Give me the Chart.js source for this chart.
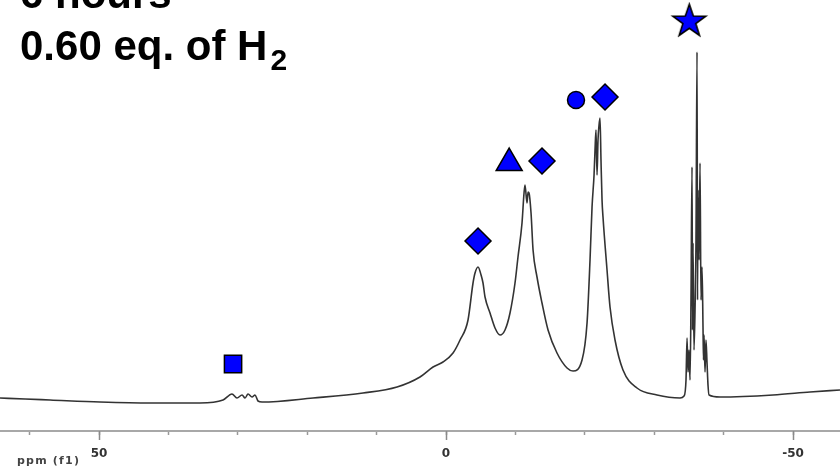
<!DOCTYPE html>
<html>
<head>
<meta charset="utf-8">
<script src="https://cdn.jsdelivr.net/npm/chart.js@4/dist/chart.umd.min.js"></script>
<style>
  html, body { margin: 0; padding: 0; background: #ffffff; overflow: hidden; }
  #wrap { width: 840px; height: 470px; position: relative; }
  canvas { display: block; }
</style>
</head>
<body>
<div id="wrap"><canvas id="c" width="840" height="470"></canvas></div>
<script>
// Spectrum trace: chemical shift (ppm) and intensity (arb. units)
const ppm = [
  64.27, 60.66, 57.06, 49.86, 42.65, 35.45, 32.13, 30.84, 30.12, 29.39, 28.96, 28.53, 27.95, 27.52, 27.09, 26.51,
  19.16, 11.96, 7.06, 3.75, 1.87, 0.43, -1.01, -2.02, -3.17, -3.89, -4.18, -4.61, -5.05, -5.33, -5.62, -6.34,
  -7.06, -7.78, -8.50, -9.22, -9.94, -10.37, -10.95, -11.24, -11.38, -11.67, -11.82, -11.96, -12.25, -12.54, -13.11, -13.83,
  -14.70, -15.99, -17.44, -18.30, -19.60, -20.32, -20.75, -21.04, -21.33, -21.47, -21.61, -21.76, -21.90, -22.05, -22.19, -22.33,
  -22.48, -22.62, -23.20, -23.63, -24.35, -25.50, -27.52, -30.40, -33.72, -34.29, -34.58, -34.73, -34.87, -35.01, -35.16, -35.30,
  -35.45, -35.52, -35.59, -35.73, -35.88, -36.02, -36.17, -36.24, -36.31, -36.46, -36.60, -36.74, -36.89, -37.03, -37.10, -37.18,
  -37.32, -37.46, -37.61, -37.75, -37.90, -39.48, -47.12, -52.45, -56.77
];
const intensity = [
  33, 32, 31, 29, 28, 28, 31, 37, 33, 36, 33, 37, 34, 36, 30, 29,
  33, 38, 44, 54, 64, 69, 78, 91, 111, 148, 158, 164, 156, 148, 134, 118,
  103, 96, 101, 118, 148, 174, 208, 238, 246, 228, 239, 238, 218, 181, 154, 128,
  101, 78, 63, 60, 71, 108, 171, 224, 256, 281, 301, 256, 291, 306, 313, 271,
  231, 214, 161, 124, 91, 61, 43, 36, 33, 35, 51, 93, 59, 81, 51, 131,
  264, 101, 188, 81, 121, 191, 379, 131, 241, 171, 268, 131, 164, 104, 71, 96,
  59, 91, 68, 46, 36, 34, 36, 39, 41
];

// Peak assignment markers
const markerPpm       = [-35.05, -18.73, -22.91, -9.10, -13.83, -4.61, 30.69];
const markerIntensity = [409.5, 331, 334, 268, 270, 190, 67];
const markerShape     = ['star', 'circle', 'rectRot', 'triangle', 'rectRot', 'rectRot', 'rect'];
const markerRadius    = [17, 8.5, 13, 15, 13, 13, 12.2];

// Axis ticks
const majorTicks = [50, 0, -50];
const xMin = -56.77, xMax = 64.27;

// Title lines
const titleLine1 = '6 hours';
const titleLine2 = '0.60 eq. of H';
const titleSub = '2';
const axisName = 'ppm (f1)';

function makeStar(R, r) {
  const size = Math.ceil(2 * R + 4);
  const c = document.createElement('canvas');
  c.width = size; c.height = size;
  const g = c.getContext('2d');
  const cx = size / 2, cy = size / 2;
  g.beginPath();
  for (let i = 0; i < 10; i++) {
    const rad = (i % 2 === 0) ? R : r;
    const a = -Math.PI / 2 + i * Math.PI / 5;
    const px = cx + rad * Math.cos(a), py = cy + rad * Math.sin(a);
    if (i === 0) g.moveTo(px, py); else g.lineTo(px, py);
  }
  g.closePath();
  g.fillStyle = '#0000ff';
  g.fill();
  g.lineWidth = 1.6;
  g.strokeStyle = '#000000';
  g.lineJoin = 'miter';
  g.stroke();
  return c;
}
const starImg = makeStar(17.3, 6.8);

const styles = markerShape.map(s => s === 'star' ? starImg : s);

const spectrum = ppm.map((p, i) => ({ x: p, y: intensity[i] }));
const markers = markerPpm.map((p, i) => ({ x: p, y: markerIntensity[i] }));

const decorPlugin = {
  id: 'decor',
  afterDraw(chart) {
    const ctx = chart.ctx;
    const xs = chart.scales.x;
    const base = chart.chartArea.bottom;
    ctx.save();
    ctx.strokeStyle = '#8a8a8a';
    ctx.lineWidth = 1.5;
    majorTicks.forEach(v => {
      const px = Math.round(xs.getPixelForValue(v)) + 0.5;
      ctx.beginPath();
      ctx.moveTo(px, base);
      ctx.lineTo(px, base + 9);
      ctx.stroke();
    });
    ctx.fillStyle = '#333333';
    ctx.font = 'bold 12px "DejaVu Sans"';
    ctx.textAlign = 'center';
    ctx.textBaseline = 'alphabetic';
    majorTicks.forEach(v => {
      const px = xs.getPixelForValue(v);
      ctx.fillText(String(v), px, base + 26);
    });
    ctx.textAlign = 'left';
    ctx.fillStyle = '#444444';
    ctx.font = 'bold 11px "DejaVu Sans"';
    if ('letterSpacing' in ctx) ctx.letterSpacing = '1.2px';
    ctx.fillText(axisName, 17, base + 33);
    if ('letterSpacing' in ctx) ctx.letterSpacing = '0px';
    ctx.fillStyle = '#000000';
    ctx.font = 'bold 42px "Liberation Sans"';
    ctx.fillText(titleLine1, 20, 8);
    ctx.fillText(titleLine2, 20, 60);
    const w = ctx.measureText(titleLine2).width;
    ctx.font = 'bold 30px "Liberation Sans"';
    ctx.fillText(titleSub, 20 + w + 3, 70);
    ctx.restore();
  }
};

new Chart(document.getElementById('c'), {
  type: 'scatter',
  data: {
    datasets: [
      {
        type: 'line',
        data: spectrum,
        borderColor: '#333333',
        borderWidth: 1.6,
        pointRadius: 0,
        cubicInterpolationMode: 'monotone',
        fill: false,
        order: 2
      },
      {
        type: 'scatter',
        data: markers,
        pointStyle: styles,
        pointRadius: markerRadius,
        pointBackgroundColor: '#0000ff',
        pointBorderColor: '#000000',
        pointBorderWidth: 1.5,
        clip: false,
        order: 1
      }
    ]
  },
  options: {
    responsive: false,
    animation: false,
    devicePixelRatio: 1,
    layout: { padding: 0, autoPadding: false },
    plugins: { legend: { display: false }, tooltip: { enabled: false } },
    scales: {
      x: {
        type: 'linear',
        reverse: true,
        min: xMin,
        max: xMax,
        afterFit(scale) { scale.height = 39; },
        border: { display: true, color: '#a8a8a8', width: 2 },
        grid: { drawOnChartArea: false, drawTicks: true, tickLength: 4, tickColor: '#999999', tickWidth: 1.5 },
        ticks: { display: false, stepSize: 10, autoSkip: false, includeBounds: false }
      },
      y: {
        display: false,
        min: 0,
        max: 431
      }
    }
  },
  plugins: [decorPlugin]
});
</script>
</body>
</html>
